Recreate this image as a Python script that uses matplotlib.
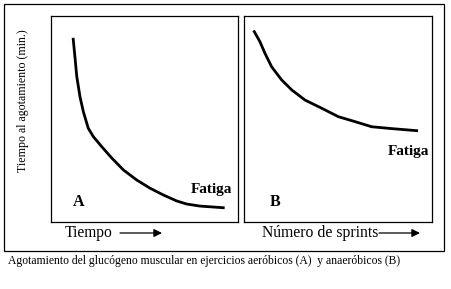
"""Glycogen depletion sketch: two schematic panels (A aerobic, B anaerobic)."""

import matplotlib
matplotlib.use('Agg')
import matplotlib.pyplot as plt

# curve values, panel units (0-100 in each panel)
tiempo_x = [12.1, 13.0, 14.0, 15.7, 17.5, 20.1, 22.8, 27.3, 32.6, 38.8, 45.9, 53.0,
            60.1, 67.2, 72.5, 79.6, 92.0]
agot_a = [88.7, 80.2, 70.5, 60.7, 53.4, 45.4, 41.3, 36.4, 30.9, 25.1, 20.2, 16.2,
          12.9, 10.0, 8.5, 7.5, 6.7]
sprints_x = [5.6, 8.6, 11.3, 14.8, 20.1, 25.5, 32.5, 41.4, 50.2, 59.0, 67.9, 78.5, 91.7]
agot_b = [92.4, 87.5, 81.8, 75.3, 68.9, 64.0, 59.1, 55.1, 51.0, 48.6, 46.1, 45.2, 44.2]

W, H = 451, 289
SERIF = ['Liberation Serif', 'DejaVu Serif']

fig = plt.figure(figsize=(W / 100, H / 100), dpi=100)
fig.patch.set_facecolor('white')

# background axes in pixel coordinates for frame, labels and arrows
bg = fig.add_axes([0, 0, 1, 1])
bg.set_xlim(0, W)
bg.set_ylim(H, 0)
bg.axis('off')
bg.add_patch(plt.Rectangle((3.5, 3.5), 440, 247, fill=False, lw=0.9, color='black'))


def panel(x0, x1, y0, y1):
    ax = fig.add_axes([x0 / W, 1 - y1 / H, (x1 - x0) / W, (y1 - y0) / H])
    ax.set_xlim(0, 100)
    ax.set_ylim(0, 100)
    ax.set_xticks([])
    ax.set_yticks([])
    for s in ax.spines.values():
        s.set_linewidth(0.9)
    return ax


ax_a = panel(50.5, 238.3, 16, 221.5)
ax_a.plot(tiempo_x, agot_a, color='black', lw=2.0, solid_joinstyle='round')
ax_a.text(14.9, 9.7, 'A', fontsize=11.5, fontweight='bold', family=SERIF, va='center', ha='center')
ax_a.text(85.5, 15.5, 'Fatiga', fontsize=11, fontweight='bold', family=SERIF, va='center', ha='center')

ax_b = panel(243.7, 432.3, 16, 221.5)
ax_b.plot(sprints_x, agot_b, color='black', lw=2.0, solid_joinstyle='round')
ax_b.text(16.9, 9.7, 'B', fontsize=11.5, fontweight='bold', family=SERIF, va='center', ha='center')
ax_b.text(87.4, 34, 'Fatiga', fontsize=11, fontweight='bold', family=SERIF, va='center', ha='center')

# axis titles
bg.text(23, 101, 'Tiempo al agotamiento (min.)', rotation=90, fontsize=8.6,
        family=SERIF, ha='center', va='center')
bg.text(65, 233, 'Tiempo', fontsize=11.2, family=SERIF, ha='left', va='center')
bg.text(262, 233, 'Número de sprints', fontsize=11.3, family=SERIF, ha='left', va='center')
for xs, xe in [(120, 162), (379, 420)]:
    bg.annotate('', xy=(xe, 233), xytext=(xs, 233),
                arrowprops=dict(arrowstyle='-|>', color='black', lw=0.9,
                                mutation_scale=12, shrinkA=0, shrinkB=0))

bg.text(8, 261, 'Agotamiento del glucógeno muscular en ejercicios aeróbicos (A)  y anaeróbicos (B)',
        fontsize=8.4, family=SERIF, ha='left', va='center')

fig.savefig('out.png', dpi=100)
